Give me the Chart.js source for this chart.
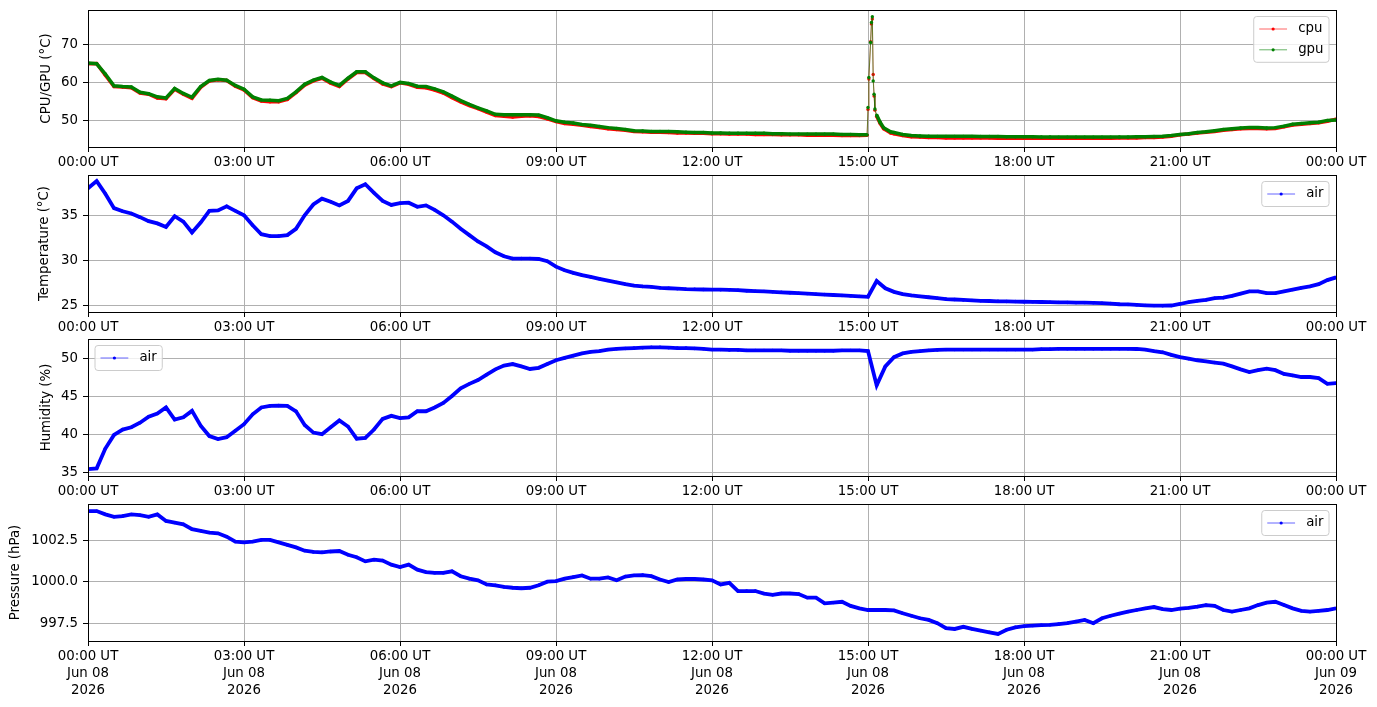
<!DOCTYPE html>
<html lang="en">
<head>
    <meta charset="UTF-8">
    <title>Sensor log - Jun 08 2026</title>
    <script src="https://cdn.jsdelivr.net/npm/chart.js"></script>
    <style>
        body { margin: 0; background: #ffffff; }
        .panel { position: absolute; left: 0; }
    </style>
</head>
<body>
    <canvas id="cpuChart" class="panel" width="1377" height="170" style="top:0px"></canvas>
    <canvas id="tempChart" class="panel" width="1377" height="170" style="top:165px"></canvas>
    <canvas id="humChart" class="panel" width="1377" height="170" style="top:329px"></canvas>
    <canvas id="presChart" class="panel" width="1377" height="213" style="top:494px"></canvas>

    <script>
        // time axis: minutes after 00:00 UT, one sample every 10 minutes
        const tenMin = Array.from({ length: 145 }, (_, i) => i * 10);
        // extra samples around the 15:00 load spike
        const spikeMinutes = [899, 900, 901, 903, 904, 905, 906, 907, 908, 910, 914, 918, 926];
        const chipMinutes = tenMin.slice(0, 90).concat(spikeMinutes, tenMin.slice(93));

        const tickMinutes = [0, 180, 360, 540, 720, 900, 1080, 1260, 1440];
        const hourLabels = ['00:00 UT', '03:00 UT', '06:00 UT', '09:00 UT', '12:00 UT', '15:00 UT', '18:00 UT', '21:00 UT', '00:00 UT'];
        const dayLabels = ['Jun 08', 'Jun 08', 'Jun 08', 'Jun 08', 'Jun 08', 'Jun 08', 'Jun 08', 'Jun 08', 'Jun 09'];
        const yearLabels = ['2026', '2026', '2026', '2026', '2026', '2026', '2026', '2026', '2026'];

        const cpuTemp = [
            65.0, 65.1, 62.0, 59.0, 58.9, 58.7, 57.3, 57.0, 56.0, 55.8,
            58.3, 57.0, 55.9, 58.8, 60.5, 60.8, 60.6, 59.1, 58.1, 56.1,
            55.2, 55.0, 55.0, 55.6, 57.4, 59.4, 60.5, 61.2, 59.9, 59.0,
            61.0, 62.7, 62.7, 61.1, 59.7, 59.0, 60.0, 59.6, 58.8, 58.7,
            58.1, 57.3, 56.1, 55.0, 54.0, 53.2, 52.3, 51.4, 51.2, 51.0,
            51.2, 51.3, 51.1, 50.5, 49.8, 49.3, 49.1, 48.8, 48.5, 48.2,
            47.9, 47.7, 47.5, 47.2, 47.1, 47.0, 47.0, 46.9, 46.8, 46.8,
            46.7, 46.7, 46.6, 46.6, 46.5, 46.5, 46.5, 46.4, 46.4, 46.4,
            46.3, 46.3, 46.3, 46.2, 46.2, 46.2, 46.2, 46.1, 46.1, 46.1,
            46.2, 53.0, 61.0, 70.8, 75.5, 76.8, 62.2, 56.5, 52.8, 51.2, 49.3, 47.9, 46.8,
            46.6, 46.1, 45.8, 45.7, 45.6, 45.6, 45.5, 45.5, 45.5, 45.5,
            45.5, 45.5, 45.4, 45.4, 45.4, 45.4, 45.4, 45.4, 45.4, 45.4,
            45.4, 45.4, 45.4, 45.4, 45.4, 45.4, 45.5, 45.5, 45.5, 45.6,
            45.6, 45.7, 45.9, 46.3, 46.5, 46.8, 47.0, 47.2, 47.5, 47.7,
            47.9, 48.0, 48.0, 47.9, 48.0, 48.4, 48.9, 49.1, 49.3, 49.5,
            49.9, 50.4
        ];
        const gpuTemp = [
            65.2, 65.0, 62.3, 59.2, 59.0, 58.9, 57.5, 57.1, 56.3, 56.0,
            58.5, 57.2, 56.2, 59.0, 60.6, 60.9, 60.7, 59.3, 58.3, 56.3,
            55.5, 55.4, 55.3, 55.9, 57.6, 59.6, 60.7, 61.4, 60.2, 59.3,
            61.2, 62.9, 62.9, 61.3, 60.0, 59.2, 60.1, 59.8, 59.1, 59.0,
            58.4, 57.6, 56.5, 55.3, 54.3, 53.4, 52.6, 51.7, 51.6, 51.6,
            51.6, 51.6, 51.5, 50.8, 50.0, 49.6, 49.4, 49.0, 48.8, 48.5,
            48.2, 48.0, 47.7, 47.4, 47.3, 47.2, 47.2, 47.2, 47.1, 47.0,
            46.9, 46.9, 46.8, 46.8, 46.75, 46.75, 46.7, 46.7, 46.7, 46.6,
            46.6, 46.5, 46.5, 46.5, 46.5, 46.5, 46.5, 46.4, 46.4, 46.3,
            46.3, 53.5, 61.4, 70.6, 75.9, 77.4, 60.5, 57.0, 53.1, 51.5, 49.6, 48.2, 47.1,
            46.9, 46.4, 46.1, 46.0, 45.95, 45.9, 45.9, 45.9, 45.9, 45.9,
            45.85, 45.85, 45.85, 45.8, 45.8, 45.8, 45.8, 45.75, 45.75, 45.7,
            45.7, 45.7, 45.7, 45.7, 45.7, 45.7, 45.75, 45.75, 45.8, 45.8,
            45.85, 45.9, 46.1, 46.4, 46.6, 46.9, 47.1, 47.4, 47.7, 47.9,
            48.1, 48.2, 48.2, 48.1, 48.2, 48.6, 49.1, 49.3, 49.5, 49.6,
            50.1, 50.2
        ];

        const airTemp = [
            38.0, 38.8, 37.4, 35.8, 35.45, 35.2, 34.8, 34.35, 34.1, 33.7, 34.9, 34.3,
            33.1, 34.2, 35.5, 35.55, 36.0, 35.5, 35.0, 33.9, 32.9, 32.7, 32.7, 32.8,
            33.5, 35.0, 36.2, 36.85, 36.5, 36.1, 36.6, 38.0, 38.45, 37.5, 36.6, 36.15,
            36.35, 36.4, 35.95, 36.1, 35.6, 35.0, 34.3, 33.5, 32.8, 32.1, 31.55, 30.9,
            30.45, 30.2, 30.2, 30.2, 30.15, 29.9, 29.3, 28.9, 28.6, 28.35, 28.15, 27.95,
            27.75, 27.55, 27.35, 27.2, 27.1, 27.05, 26.95, 26.9, 26.85, 26.8, 26.78, 26.76,
            26.75, 26.74, 26.72, 26.68, 26.62, 26.58, 26.55, 26.5, 26.45, 26.4, 26.35, 26.3,
            26.25, 26.2, 26.15, 26.1, 26.05, 26.0, 25.95, 27.7, 26.9, 26.5, 26.25, 26.1,
            26.0, 25.9, 25.8, 25.7, 25.65, 25.6, 25.55, 25.5, 25.48, 25.45, 25.43, 25.42,
            25.4, 25.38, 25.37, 25.35, 25.33, 25.32, 25.3, 25.3, 25.28, 25.25, 25.2, 25.12,
            25.1, 25.05, 25.0, 24.97, 24.96, 24.98, 25.15, 25.35, 25.5, 25.6, 25.8, 25.85,
            26.05, 26.3, 26.55, 26.55, 26.35, 26.35, 26.55, 26.75, 26.95, 27.1, 27.35, 27.8,
            28.1
        ];

        const airHumidity = [
            35.5, 35.6, 38.2, 40.0, 40.7, 41.0, 41.6, 42.4, 42.8, 43.6, 42.0, 42.3,
            43.15, 41.2, 39.85, 39.45, 39.7, 40.55, 41.4, 42.7, 43.6, 43.8, 43.85, 43.8,
            43.1, 41.3, 40.3, 40.1, 41.0, 41.9, 41.1, 39.5, 39.6, 40.7, 42.1, 42.5,
            42.2, 42.3, 43.1, 43.1, 43.6, 44.2, 45.1, 46.1, 46.7, 47.2, 47.9, 48.6,
            49.1, 49.3, 49.0, 48.65, 48.8, 49.3, 49.8, 50.1, 50.4, 50.7, 50.9, 51.0,
            51.2, 51.3, 51.35, 51.4, 51.45, 51.5, 51.5, 51.45, 51.4, 51.4, 51.35, 51.3,
            51.2, 51.2, 51.15, 51.15, 51.1, 51.1, 51.1, 51.1, 51.1, 51.05, 51.05, 51.05,
            51.05, 51.05, 51.05, 51.1, 51.1, 51.1, 51.0, 46.5, 49.0, 50.2, 50.7, 50.9,
            51.0, 51.1, 51.15, 51.2, 51.2, 51.2, 51.2, 51.2, 51.2, 51.2, 51.2, 51.2,
            51.2, 51.2, 51.25, 51.25, 51.3, 51.3, 51.3, 51.3, 51.3, 51.3, 51.3, 51.3,
            51.3, 51.28, 51.2, 51.0, 50.85, 50.5, 50.2, 50.0, 49.8, 49.65, 49.5, 49.35,
            49.0, 48.6, 48.25, 48.5, 48.7, 48.5, 48.0, 47.8, 47.6, 47.6, 47.45, 46.7,
            46.8
        ];

        const airPressure = [
            1004.3, 1004.3, 1004.1, 1003.95, 1004.0, 1004.1, 1004.05, 1003.95, 1004.1, 1003.7, 1003.6, 1003.5,
            1003.2, 1003.1, 1003.0, 1002.95, 1002.75, 1002.45, 1002.4, 1002.45, 1002.55, 1002.55, 1002.4, 1002.25,
            1002.1, 1001.9, 1001.82, 1001.8, 1001.85, 1001.88, 1001.65, 1001.5, 1001.25, 1001.35, 1001.3, 1001.05,
            1000.9, 1001.05, 1000.75, 1000.6, 1000.55, 1000.55, 1000.65, 1000.35, 1000.2, 1000.1, 999.85, 999.8,
            999.7, 999.65, 999.62, 999.65, 999.8, 1000.02, 1000.05, 1000.2, 1000.3, 1000.4, 1000.2, 1000.2,
            1000.28, 1000.1, 1000.33, 1000.4, 1000.42, 1000.35, 1000.15, 1000.0, 1000.15, 1000.18, 1000.18, 1000.15,
            1000.1, 999.85, 999.95, 999.45, 999.45, 999.45, 999.3, 999.22, 999.3, 999.3, 999.27, 999.05,
            999.05, 998.7, 998.75, 998.8, 998.55, 998.4, 998.3, 998.3, 998.3, 998.28, 998.1, 997.95,
            997.8, 997.7, 997.5, 997.2, 997.15, 997.28, 997.15, 997.05, 996.95, 996.85, 997.1, 997.25,
            997.32, 997.35, 997.38, 997.4, 997.45, 997.5, 997.6, 997.7, 997.5, 997.8, 997.95, 998.08,
            998.2, 998.3, 998.4, 998.48, 998.35, 998.3, 998.38, 998.43, 998.5, 998.6, 998.55, 998.3,
            998.2, 998.3, 998.4, 998.6, 998.75, 998.8, 998.6, 998.4, 998.25, 998.2, 998.25, 998.3,
            998.4
        ];

        const cpuTicks = [50, 60, 70];
        const tempTicks = [25, 30, 35];
        const humTicks = [35, 40, 45, 50];
        const presTicks = [997.5, 1000.0, 1002.5];

        Chart.defaults.font.family = "'DejaVu Sans', sans-serif";
        Chart.defaults.font.size = 13.33;
        Chart.defaults.color = '#000000';

        function pairs(xs, ys) {
            return xs.map((m, i) => ({ x: m, y: ys[i] }));
        }

        // black box round the plot area, like axes spines
        const framePlugin = {
            id: 'frame',
            afterDraw(chart) {
                const { ctx, chartArea: a } = chart;
                ctx.save();
                ctx.strokeStyle = '#000000';
                ctx.lineWidth = 1;
                const l = Math.round(a.left) + 0.5, t = Math.round(a.top) + 0.5;
                const r = Math.round(a.right) + 0.5, b = Math.round(a.bottom) + 0.5;
                ctx.strokeRect(l, t, r - l, b - t);
                ctx.restore();
            }
        };

        // legend drawn inside the plot area
        const boxLegend = {
            id: 'boxLegend',
            afterDraw(chart, args, opts) {
                const { ctx, chartArea: a } = chart;
                const items = chart.data.datasets;
                ctx.save();
                ctx.font = "13.33px 'DejaVu Sans'";
                const textW = Math.max(...items.map(d => ctx.measureText(d.label).width));
                const pad = 5.5, handle = 27.8, gap = 11.1, row = 20.8;
                const w = pad + handle + gap + textW + pad;
                const h = 11 + items.length * 14 + (items.length - 1) * 6.8;
                const x0 = opts.side === 'left' ? a.left + 7 : a.right - 7 - w;
                const y0 = a.top + 6.5;

                ctx.beginPath();
                ctx.roundRect(x0, y0, w, h, 3);
                ctx.fillStyle = 'rgba(255,255,255,0.8)';
                ctx.fill();
                ctx.strokeStyle = '#cccccc';
                ctx.lineWidth = 1;
                ctx.stroke();

                items.forEach((d, i) => {
                    const cy = y0 + pad + 7 + i * row;
                    const hx = x0 + pad;
                    ctx.beginPath();
                    ctx.moveTo(hx, cy);
                    ctx.lineTo(hx + handle, cy);
                    ctx.strokeStyle = d.legendLine;
                    ctx.lineWidth = 1;
                    ctx.stroke();
                    ctx.beginPath();
                    ctx.arc(hx + handle / 2, cy, 1.6, 0, Math.PI * 2);
                    ctx.fillStyle = d.borderColor;
                    ctx.fill();
                    ctx.fillStyle = '#000000';
                    ctx.textBaseline = 'middle';
                    ctx.textAlign = 'left';
                    ctx.fillText(d.label, hx + handle + gap, cy);
                });
                ctx.restore();
            }
        };

        // fast jumps (the 15:00 spike) are drawn with a thin faded line
        function isJump(seg) {
            return seg.p1.parsed.x - seg.p0.parsed.x < 9 && seg.p1.parsed.x <= 910;
        }

        function series(label, color, faded, xs, ys, order, width) {
            return {
                label: label,
                data: pairs(xs, ys),
                borderColor: color,
                backgroundColor: color,
                legendLine: faded,
                borderWidth: width,
                segment: {
                    borderWidth: seg => isJump(seg) ? 1 : width,
                    borderColor: seg => isJump(seg) ? faded : color
                },
                pointRadius: 1.7,
                pointBorderWidth: 0,
                pointBackgroundColor: color,
                tension: 0,
                fill: false,
                clip: 0,
                order: order
            };
        }

        function buildPanel(id, cfg) {
            return new Chart(document.getElementById(id), {
                type: 'line',
                data: { datasets: cfg.datasets },
                options: {
                    responsive: false,
                    animation: false,
                    layout: { padding: { top: 10, right: 41, left: 0, bottom: 0 } },
                    plugins: {
                        legend: { display: false },
                        tooltip: { enabled: false },
                        boxLegend: { side: cfg.legendSide }
                    },
                    scales: {
                        x: {
                            type: 'linear',
                            min: 0,
                            max: 1440,
                            afterBuildTicks: s => { s.ticks = tickMinutes.map(v => ({ value: v })); },
                            afterFit: s => { s.height = cfg.xHeight; },
                            ticks: {
                                autoSkip: false,
                                maxRotation: 0,
                                padding: cfg.xPad,
                                font: { lineHeight: cfg.xLineHeight },
                                callback: cfg.xLabel
                            },
                            grid: { color: '#b0b0b0', lineWidth: 1, tickColor: '#000000', tickLength: 5 },
                            border: { display: false }
                        },
                        y: {
                            type: 'linear',
                            min: cfg.yMin,
                            max: cfg.yMax,
                            afterBuildTicks: s => { s.ticks = cfg.yTicks.map(v => ({ value: v })); },
                            afterFit: s => {
                                s.width = 88;
                                s.paddingTop = 0;
                                s.paddingBottom = 0;
                            },
                            ticks: { padding: 5, callback: cfg.yLabel },
                            grid: { color: '#b0b0b0', lineWidth: 1, tickColor: '#000000', tickLength: 5 },
                            border: { display: false },
                            title: {
                                display: true,
                                text: cfg.yTitle,
                                padding: { top: cfg.titlePad, bottom: 0 }
                            }
                        }
                    }
                },
                plugins: [framePlugin, boxLegend]
            });
        }

        const hourOnly = (v, i) => hourLabels[i];
        const fullDate = (v, i) => [hourLabels[i], dayLabels[i], yearLabels[i]];
        const intLabel = v => String(v);

        buildPanel('cpuChart', {
            datasets: [
                series('cpu', '#ff0000', 'rgba(255,0,0,0.6)', chipMinutes, cpuTemp, 1, 3.5),
                series('gpu', '#008000', 'rgba(0,128,0,0.6)', chipMinutes, gpuTemp, 0, 3.5)
            ],
            legendSide: 'right',
            yMin: 43.1, yMax: 79.16, yTicks: cpuTicks, yLabel: intLabel,
            yTitle: 'CPU/GPU (°C)', titlePad: 38.5,
            xHeight: 23, xPad: 3, xLineHeight: 1.2, xLabel: hourOnly
        });

        buildPanel('tempChart', {
            datasets: [series('air', '#0000ff', 'rgba(0,0,255,0.6)', tenMin, airTemp, 0, 3.8)],
            legendSide: 'right',
            yMin: 24.26, yMax: 39.48, yTicks: tempTicks, yLabel: intLabel,
            yTitle: 'Temperature (°C)', titlePad: 37,
            xHeight: 23, xPad: 3, xLineHeight: 1.2, xLabel: hourOnly
        });

        buildPanel('humChart', {
            datasets: [series('air', '#0000ff', 'rgba(0,0,255,0.6)', tenMin, airHumidity, 0, 3.8)],
            legendSide: 'left',
            yMin: 34.6, yMax: 52.59, yTicks: humTicks, yLabel: intLabel,
            yTitle: 'Humidity (%)', titlePad: 39,
            xHeight: 23, xPad: 3, xLineHeight: 1.2, xLabel: hourOnly
        });

        buildPanel('presChart', {
            datasets: [series('air', '#0000ff', 'rgba(0,0,255,0.6)', tenMin, airPressure, 0, 3.8)],
            legendSide: 'right',
            yMin: 996.42, yMax: 1004.73, yTicks: presTicks, yLabel: v => v.toFixed(1),
            yTitle: 'Pressure (hPa)', titlePad: 8,
            xHeight: 66, xPad: 2.5, xLineHeight: 1.25, xLabel: fullDate
        });
    </script>
</body>
</html>
